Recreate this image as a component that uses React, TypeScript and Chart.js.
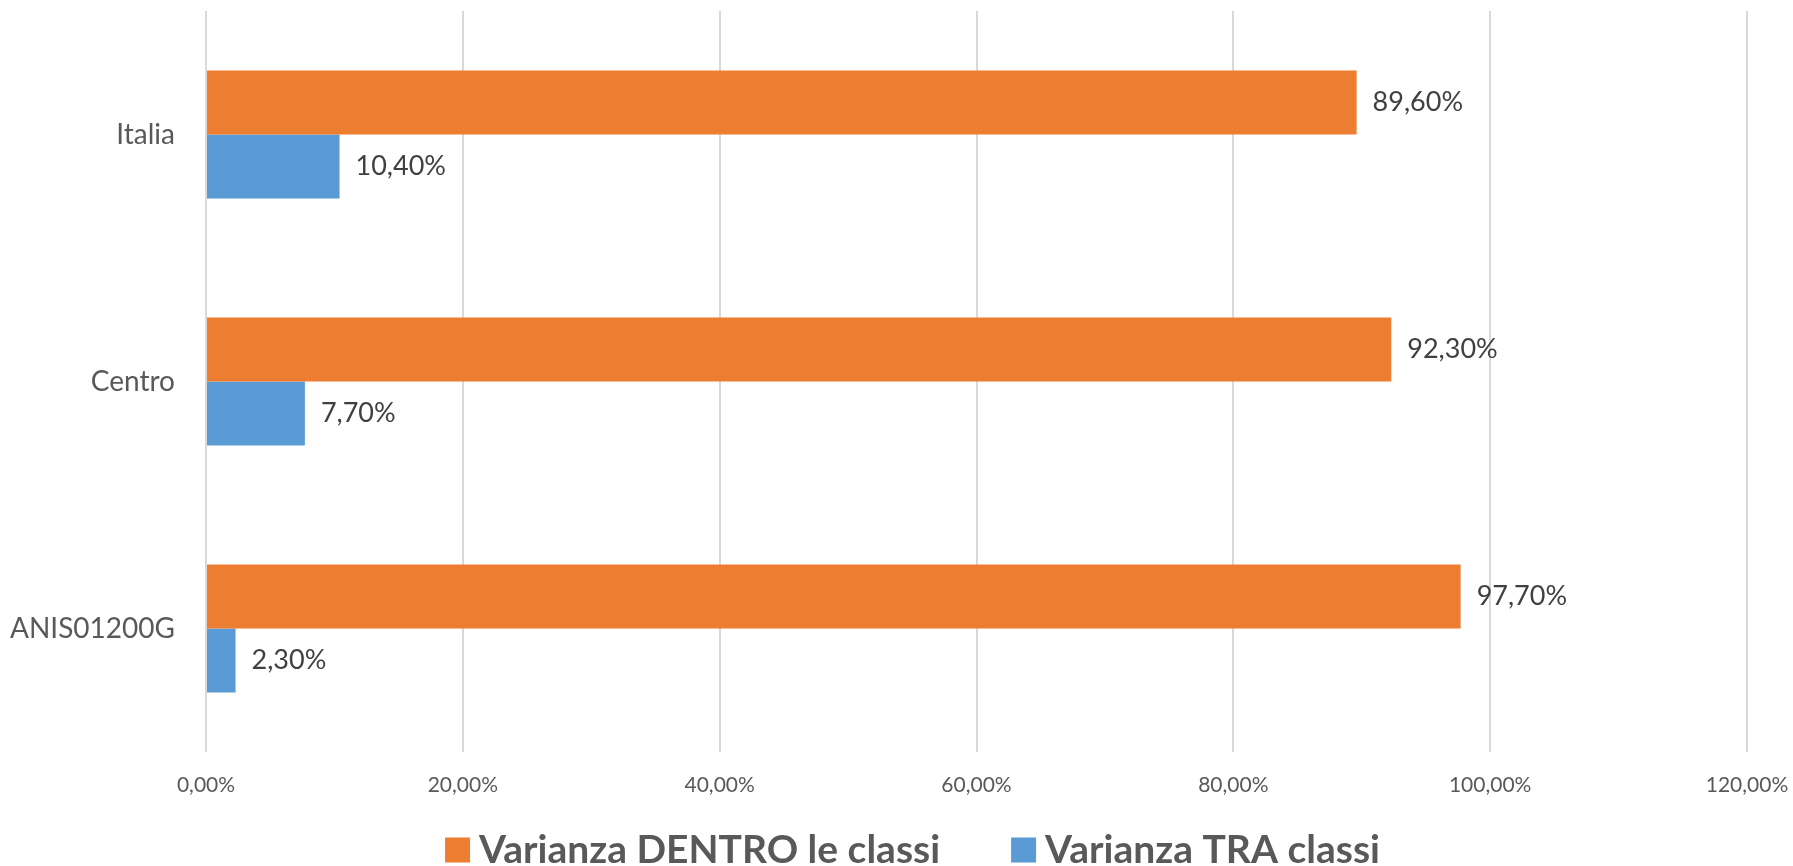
import React, { useEffect, useRef } from "react";
import { Chart, registerables } from "chart.js";

Chart.register(...registerables);

const categories = ["Italia", "Centro", "ANIS01200G"];
const seriesNames = ["Varianza DENTRO le classi", "Varianza TRA classi"];
const dentroValues = [89.6, 92.3, 97.7];
const traValues = [10.4, 7.7, 2.3];
const xMin = 0;
const xMax = 120;
const xStep = 20;
const seriesColors = ["#ED7D31", "#5B9BD5"];

const fmt = (v: number) => Number(v).toFixed(2).replace(".", ",") + "%";

const W = 1793;
const H = 866;
const PLOT_LEFT = 206;

const valueLabels = {
  id: "valueLabels",
  afterDatasetsDraw(chart: any) {
    const ctx = chart.ctx;
    ctx.save();
    ctx.font = "27px Lato";
    ctx.fillStyle = "#404040";
    ctx.textAlign = "left";
    ctx.textBaseline = "middle";
    chart.data.datasets.forEach((ds: any, i: number) => {
      const meta = chart.getDatasetMeta(i);
      meta.data.forEach((el: any, j: number) => {
        ctx.fillText(fmt(ds.data[j]), el.x + 16, el.y);
      });
    });
    ctx.restore();
  },
};

const bottomLegend = {
  id: "bottomLegend",
  afterDraw(chart: any) {
    const ctx = chart.ctx;
    ctx.save();
    ctx.font = "bold 39px Lato";
    ctx.textAlign = "left";
    ctx.textBaseline = "middle";
    const box = 25;
    const gapText = 9;
    const gapItem = 71;
    const items = chart.data.datasets.map((ds: any) => ({
      text: ds.label as string,
      color: ds.backgroundColor as string,
    }));
    const widths = items.map(
      (it: any) => box + gapText + ctx.measureText(it.text).width
    );
    const total =
      widths.reduce((a: number, b: number) => a + b, 0) +
      gapItem * (items.length - 1);
    let x = chart.width / 2 + 16 - total / 2;
    const cy = chart.height - 16;
    items.forEach((it: any, i: number) => {
      ctx.fillStyle = it.color;
      ctx.fillRect(x, cy - box / 2, box, box);
      ctx.fillStyle = "#595959";
      ctx.fillText(it.text, x + box + gapText, cy);
      x += widths[i] + gapItem;
    });
    ctx.restore();
  },
};

export default function App() {
  const ref = useRef<HTMLCanvasElement | null>(null);

  useEffect(() => {
    if (!ref.current) return;
    Chart.defaults.font.family = "Lato";
    const chart = new Chart(ref.current, {
      type: "bar",
      data: {
        labels: categories,
        datasets: [
          {
            label: seriesNames[0],
            data: dentroValues,
            backgroundColor: seriesColors[0],
            borderWidth: 0,
          },
          {
            label: seriesNames[1],
            data: traValues,
            backgroundColor: seriesColors[1],
            borderWidth: 0,
          },
        ],
      },
      options: {
        indexAxis: "y",
        responsive: false,
        animation: false,
        layout: { padding: { top: 11, left: 0, right: 46, bottom: 66 } },
        datasets: {
          bar: { categoryPercentage: 0.518, barPercentage: 1 },
        },
        plugins: {
          legend: { display: false },
          tooltip: { enabled: false },
        },
        scales: {
          x: {
            min: xMin,
            max: xMax,
            ticks: {
              stepSize: xStep,
              callback: (v: any) => fmt(v),
              color: "#595959",
              font: { size: 21 },
              padding: 0,
            },
            grid: {
              color: "#d9d9d9",
              lineWidth: 2,
              drawTicks: true,
              tickLength: 21,
              tickColor: "rgba(0,0,0,0)",
            },
            border: { display: false },
            afterFit: (s: any) => {
              s.height = 48;
            },
          },
          y: {
            ticks: {
              color: "#595959",
              font: { size: 28, lineHeight: 0.75 },
              padding: 0,
            },
            grid: { display: false, drawTicks: true, tickLength: 31 },
            border: { display: false },
            afterFit: (s: any) => {
              s.width = PLOT_LEFT;
            },
          },
        },
      } as any,
      plugins: [valueLabels, bottomLegend],
    });
    return () => chart.destroy();
  }, []);

  return (
    <div
      style={{
        position: "fixed",
        left: 0,
        top: 0,
        width: W,
        height: H,
        overflow: "hidden",
        background: "#ffffff",
      }}
    >
      <canvas ref={ref} width={W} height={H} style={{ display: "block" }} />
    </div>
  );
}
